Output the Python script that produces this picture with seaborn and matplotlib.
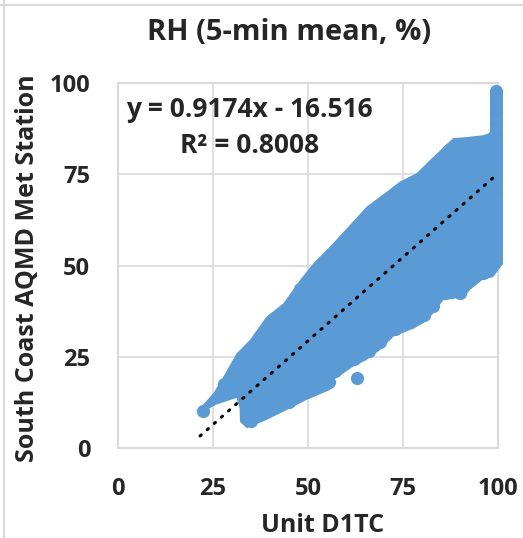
import numpy as np
import pandas as pd
import matplotlib
matplotlib.use('Agg')
import matplotlib.pyplot as plt
import seaborn as sns
from matplotlib.lines import Line2D

# outer outline of the dense point cloud, going round clockwise
cloud_x = [21.1, 25.1, 27.7, 31.2, 34.7, 39.1, 43.5, 47.9, 51.4, 55.8, 60.6, 65.4, 70.7,
           74.2, 78.6, 82.1, 88.2, 91.8, 97.0, 97.9, 97.9, 99.6, 101.3, 101.3, 98.7,
           96.1, 92.6, 91.0, 89.0, 85.6, 83.0, 80.4, 76.8, 72.5, 68.9, 65.4, 61.9, 56.7,
           55.8, 49.7, 44.4, 39.1, 33.9, 32.1, 32.0, 31.2, 25.9, 21.5, 20.5]
cloud_y = [10.4, 15.0, 19.5, 25.9, 29.6, 36.0, 39.6, 46.0, 50.6, 55.2, 60.6, 66.1, 70.2,
           73.0, 75.3, 78.9, 84.9, 85.2, 85.8, 86.6, 97.8, 99.5, 97.8, 50.4, 46.8,
           46.2, 43.3, 41.0, 41.0, 40.5, 36.9, 34.2, 32.3, 30.5, 26.8, 24.1, 22.3, 18.6,
           15.9, 13.2, 10.4, 7.7, 5.4, 7.2, 11.0, 13.7, 11.9, 9.4, 10.5]
# single points along the edge and outside the cloud
pt_x = [22.5, 28.0, 35.0, 39.5, 44.0, 48.0, 56.0, 61.0, 71.0, 79.0, 83.0, 87.5, 97.0,
        99.6, 99.6, 99.6, 99.6, 99.6, 99.6, 99.6,
        96.0, 90.0, 86.0, 83.0, 80.5, 77.0, 73.0, 69.0, 66.0, 62.0, 57.0, 55.5, 50.0,
        45.0, 39.0, 35.0, 62.8]
pt_y = [10.0, 17.5, 27.5, 33.5, 37.5, 43.5, 53.0, 58.5, 68.0, 73.5, 76.5, 82.0, 84.5,
        86.0, 89.0, 92.0, 95.0, 97.8, 70.0, 52.0,
        48.0, 42.4, 42.5, 39.0, 36.5, 34.5, 32.5, 29.0, 26.5, 24.5, 21.0, 18.0, 15.5,
        12.5, 10.0, 7.5, 19.1]

# linear trendline shown on the chart
slope, intercept = 0.9174, -16.516
fit_x = [21.6, 100.0]

blue = '#5B9BD5'
grey = '#D9D9D9'

sns.set_theme(style='white')
plt.rcParams['font.family'] = ['Open Sans', 'DejaVu Sans']
plt.rcParams['font.weight'] = 'bold'

fig = plt.figure(figsize=(5.23, 5.38), dpi=100)
ax = fig.add_axes([0.2256, 0.1673, 0.7266, 0.6784])

ax.fill(cloud_x, cloud_y, color=blue, lw=0, zorder=2, clip_on=False)

pts = pd.DataFrame({'x': pt_x, 'y': pt_y})
sns.scatterplot(data=pts, x='x', y='y', color=blue, s=90, linewidth=0, ax=ax,
                zorder=3, clip_on=False)

fit = pd.DataFrame({'x': fit_x, 'y': [slope * v + intercept for v in fit_x]})
sns.lineplot(data=fit, x='x', y='y', color='black', lw=2.2, ax=ax, zorder=4,
             linestyle=(0, (0.5, 2.6)), dash_capstyle='round')

ax.set_xlim(0, 100)
ax.set_ylim(0, 100)
ticks = [0, 25, 50, 75, 100]
ax.set_xticks(ticks)
ax.set_yticks(ticks)
ax.set_xticklabels([str(t) for t in ticks], fontsize=17, fontweight='bold')
ax.set_yticklabels([str(t) for t in ticks], fontsize=17, fontweight='bold')
ax.tick_params(axis='x', length=0, pad=21)
ax.tick_params(axis='y', length=0, pad=20)
ax.grid(True, color=grey, lw=1.2, zorder=0)
ax.set_axisbelow(True)
for sp in ax.spines.values():
    sp.set_color(grey)
    sp.set_linewidth(1.5)
    sp.set_zorder(0.5)
ax.set_xlabel('')
ax.set_ylabel('')

ax.text(34.5, 96.5, 'y = 0.9174x - 16.516\nR² = 0.8008', ha='center', va='top',
        fontsize=19, fontweight='bold', linespacing=1.42, zorder=5)

fig.text(289 / 523, 1 - 33 / 538, 'RH (5-min mean, %)', ha='center', va='center',
         fontsize=21, fontweight='bold')
fig.text(323 / 523, 1 - 526 / 538, 'Unit D1TC', ha='center', va='center',
         fontsize=18, fontweight='bold')
fig.text(28 / 523, 1 - 268 / 538, 'South Coast AQMD Met Station', ha='center', va='center',
         rotation=90, fontsize=18, fontweight='bold')

# chart border lines
fig.add_artist(Line2D([0, 1], [1 - 5 / 538, 1 - 5 / 538], color=grey, lw=1.5))
fig.add_artist(Line2D([4 / 523, 4 / 523], [0, 1], color=grey, lw=1.5))

fig.savefig('out.png', dpi=100)
